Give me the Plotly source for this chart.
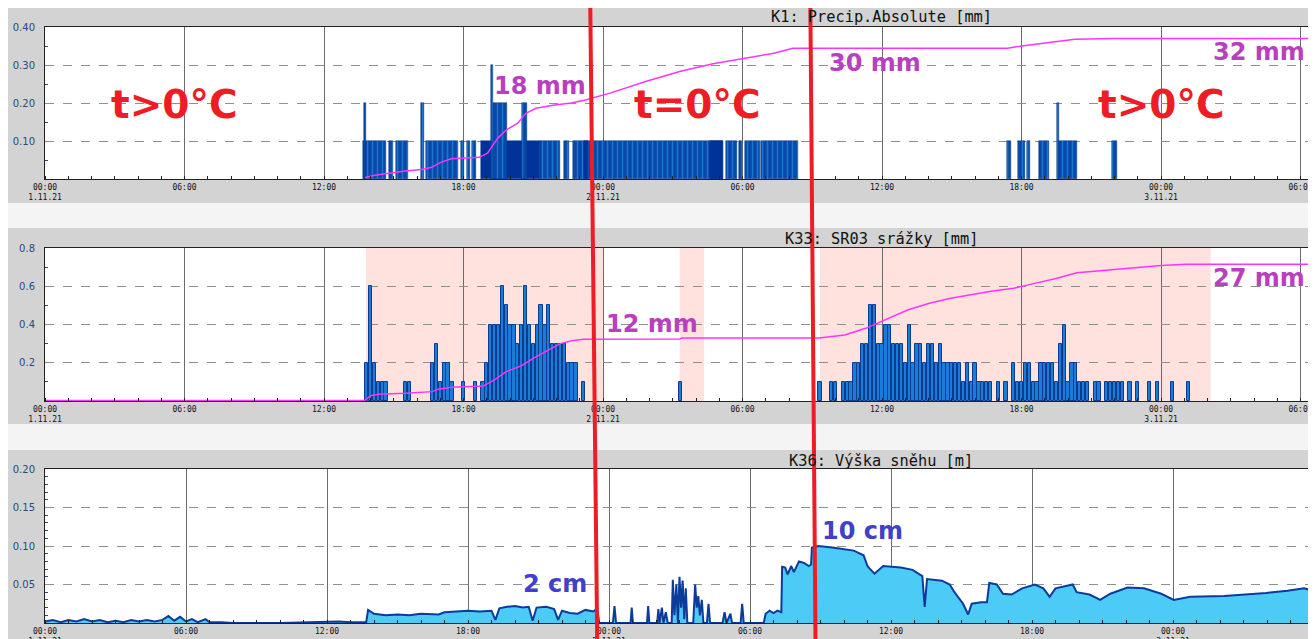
import plotly.graph_objects as go

# The page body keeps its default 8px margin, so the figure is drawn 8px in from the
# top-left corner of the 1316x639 window; size it to fill the rest.
OFF = 8
W, H = 1316 - OFF, 639 - OFF


def hrs(s):
    """'d HH:MM' (day of November 2021) -> hours since 1.11.21 00:00"""
    d, hm = s.split()
    h, m = hm.split(":")
    return (int(d) - 1) * 24 + int(h) + int(m) / 60


# ------------------------------------------------------------------ data
tick_hours = [0, 6, 12, 18, 24, 30, 36, 42, 48, 54]
tick_labels = ["00:00<br>1.11.21", "06:00", "12:00", "18:00", "00:00<br>2.11.21",
               "06:00", "12:00", "18:00", "00:00<br>3.11.21", "06:00"]

titles = ["K1: Precip.Absolute [mm]", "K33: SR03 srážky [mm]", "K36: Výška sněhu [m]"]

# K1 precipitation increments, runs of bars (start, end, value [mm])
k1_striped_runs = [
    ("1 13:41", "1 14:40", 0.1), ("1 14:49", "1 14:57", 0.1), ("1 15:05", "1 15:38", 0.1),
    ("1 16:22", "1 17:47", 0.1), ("1 17:53", "1 18:02", 0.1), ("1 18:08", "1 18:17", 0.1),
    ("1 18:23", "1 18:31", 0.1), ("1 21:17", "1 22:09", 0.1), ("1 22:20", "1 22:31", 0.1),
    ("1 22:42", "2 05:10", 0.1), ("2 05:17", "2 05:46", 0.1), ("2 05:52", "2 05:59", 0.1),
    ("2 06:06", "2 06:45", 0.1), ("2 06:49", "2 08:24", 0.1), ("2 17:23", "2 17:32", 0.1),
    ("2 17:51", "2 18:09", 0.1), ("2 18:13", "2 18:23", 0.1), ("2 18:45", "2 19:10", 0.1),
    ("2 19:34", "2 20:23", 0.1), ("2 21:53", "2 22:06", 0.1),
]
k1_dense_runs = [
    ("1 18:45", "1 21:17", 0.1), ("1 23:12", "1 23:22", 0.1), ("2 04:36", "2 05:10", 0.1),
]
k1_peak_runs = [
    ("1 13:43", "1 13:49", 0.2), ("1 16:10", "1 16:17", 0.2), ("1 19:17", "1 19:53", 0.2),
    ("1 19:11", "1 19:17", 0.3), ("1 20:30", "1 20:43", 0.2), ("2 19:32", "2 19:37", 0.2),
]
# K1 cumulative curve (drawn in axis units)
k1_cum_time = ["1 13:46", "1 14:11", "1 15:29", "1 16:12", "1 16:36",
               "1 17:00", "1 17:28", "1 18:02", "1 18:41", "1 19:02", "1 19:28", "1 19:50",
               "1 20:20", "1 20:41", "1 21:07", "1 21:55", "1 22:38", "1 23:12", "2 00:18",
               "2 01:52", "2 03:18", "2 04:44", "2 05:45", "2 06:05", "2 07:21", "2 08:10",
               "2 17:24", "2 18:00", "2 19:06", "2 19:36", "2 20:18", "2 22:00", "3 06:30"]
k1_cum_value = [0.004, 0.010, 0.021, 0.025, 0.030,
                0.043, 0.053, 0.054, 0.057, 0.068, 0.107, 0.129,
                0.147, 0.173, 0.186, 0.195, 0.200, 0.207, 0.226,
                0.257, 0.283, 0.303, 0.314, 0.316, 0.331, 0.344,
                0.344, 0.350, 0.359, 0.362, 0.368, 0.370, 0.370]

# K33 precipitation, 10-minute sums
k33_time = ["1 13:50", "1 14:00", "1 14:10", "1 14:20", "1 14:30", "1 14:40", "1 15:30", "1 15:40",
            "1 16:40", "1 16:50", "1 17:00", "1 17:10", "1 17:20", "1 17:30", "1 18:00", "1 18:30",
            "1 18:50", "1 19:00", "1 19:10", "1 19:20", "1 19:30", "1 19:40", "1 19:50", "1 20:00",
            "1 20:10", "1 20:20", "1 20:30", "1 20:40", "1 20:50", "1 21:00", "1 21:10", "1 21:20",
            "1 21:30", "1 21:40", "1 21:50", "1 22:00", "1 22:10", "1 22:20", "1 22:30", "1 22:40",
            "1 22:50", "1 23:10",
            "2 03:20",
            "2 09:20", "2 09:50", "2 10:00", "2 10:20", "2 10:30", "2 10:40", "2 10:50", "2 11:00",
            "2 11:10", "2 11:20", "2 11:30", "2 11:40", "2 11:50", "2 12:00", "2 12:10", "2 12:20",
            "2 12:30", "2 12:40", "2 12:50", "2 13:00", "2 13:10", "2 13:20", "2 13:30", "2 13:40",
            "2 13:50", "2 14:00", "2 14:10", "2 14:20", "2 14:30", "2 14:40", "2 14:50", "2 15:00",
            "2 15:10", "2 15:20", "2 15:30", "2 15:40", "2 15:50", "2 16:00", "2 16:10", "2 16:20",
            "2 16:30", "2 16:40", "2 17:00", "2 17:20", "2 17:40", "2 17:50", "2 18:00", "2 18:10",
            "2 18:20", "2 18:30", "2 18:40", "2 18:50", "2 19:00", "2 19:10", "2 19:20", "2 19:30",
            "2 19:40", "2 19:50", "2 20:00", "2 20:10", "2 20:20", "2 20:30", "2 20:40", "2 20:50",
            "2 21:10", "2 21:20", "2 21:40", "2 21:50", "2 22:00", "2 22:10", "2 22:20", "2 22:40",
            "2 23:00", "2 23:30", "2 23:50", "3 00:30", "3 01:10"]
k33_value = [0.2, 0.6, 0.2, 0.1, 0.1, 0.1, 0.1, 0.1,
             0.2, 0.3, 0.1, 0.2, 0.2, 0.1, 0.1, 0.1,
             0.1, 0.2, 0.4, 0.4, 0.4, 0.6, 0.5, 0.4,
             0.4, 0.3, 0.4, 0.6, 0.4, 0.3, 0.4, 0.5,
             0.4, 0.5, 0.3, 0.3, 0.3, 0.3, 0.2, 0.2,
             0.2, 0.1,
             0.1,
             0.1, 0.1, 0.1, 0.1, 0.1, 0.1, 0.2, 0.2,
             0.3, 0.3, 0.5, 0.5, 0.3, 0.3, 0.4, 0.4,
             0.3, 0.3, 0.3, 0.2, 0.4, 0.2, 0.3, 0.3,
             0.2, 0.3, 0.3, 0.2, 0.3, 0.2, 0.2, 0.2,
             0.2, 0.2, 0.1, 0.2, 0.1, 0.2, 0.1, 0.1,
             0.1, 0.1, 0.1, 0.1, 0.2, 0.1, 0.1, 0.2,
             0.2, 0.1, 0.1, 0.2, 0.2, 0.2, 0.2, 0.1,
             0.3, 0.4, 0.1, 0.2, 0.2, 0.1, 0.1, 0.1,
             0.1, 0.1, 0.1, 0.1, 0.1, 0.1, 0.1, 0.1,
             0.1, 0.1, 0.1, 0.1, 0.1]
# K33 periods with precipitation detected (shaded)
k33_wet_periods = [("1 13:48", "2 00:03"), ("2 03:18", "2 04:21"), ("2 09:20", "3 02:08")]
# K33 cumulative curve (axis units)
k33_cum_time = ["1 00:00", "1 13:45", "1 14:00", "1 14:20", "1 15:30", "1 16:40", "1 16:54",
                "1 17:30", "1 18:00", "1 18:51", "1 19:20", "1 19:50", "1 20:30", "1 21:00",
                "1 21:40", "1 22:10", "1 22:40", "1 23:10", "2 03:18", "2 03:24", "2 09:18",
                "2 10:24", "2 11:18", "2 12:06", "2 13:06", "2 14:00", "2 14:57", "2 16:46",
                "2 17:40", "2 18:34", "2 19:29", "2 20:23", "2 22:11", "3 00:00", "3 01:05", "3 06:30"]
k33_cum_value = [0.002, 0.002, 0.028, 0.035, 0.040, 0.049, 0.061,
                 0.072, 0.075, 0.078, 0.110, 0.153, 0.185, 0.223,
                 0.267, 0.300, 0.315, 0.323, 0.324, 0.329, 0.329,
                 0.345, 0.380, 0.424, 0.476, 0.510, 0.537, 0.575,
                 0.589, 0.615, 0.641, 0.671, 0.690, 0.708, 0.715, 0.715]

# K36 snow depth [m]
snow_time = [
    "1 00:00", "1 00:20", "1 00:40", "1 01:00", "1 01:20", "1 01:40", "1 02:00", "1 02:20",
    "1 02:40", "1 03:00", "1 03:20", "1 03:40", "1 04:00", "1 04:20", "1 04:40", "1 05:00",
    "1 05:15", "1 05:30", "1 05:45", "1 06:00", "1 06:15", "1 06:30", "1 06:50", "1 07:00",
    "1 07:30", "1 08:00", "1 10:00", "1 12:00", "1 12:30", "1 13:00", "1 13:40", "1 13:45",
    "1 14:00", "1 14:30", "1 15:00", "1 15:30", "1 16:00", "1 16:45", "1 17:00", "1 17:30",
    "1 18:00", "1 18:30", "1 19:00", "1 19:10", "1 19:20", "1 19:40", "1 20:00", "1 20:20",
    "1 20:35", "1 20:45", "1 20:55", "1 21:20", "1 21:40", "1 21:50", "1 22:00", "1 22:20",
    "1 22:40", "1 23:00", "1 23:20", "1 23:30", "1 23:35",
    "2 00:10", "2 00:14", "2 00:18", "2 00:55", "2 00:58", "2 01:01", "2 01:37", "2 01:40",
    "2 01:43", "2 02:03", "2 02:06", "2 02:09", "2 02:15", "2 02:19", "2 02:25", "2 02:30",
    "2 02:40", "2 02:43", "2 02:47", "2 02:52", "2 02:56", "2 03:00", "2 03:04", "2 03:08",
    "2 03:12", "2 03:16", "2 03:20", "2 03:35", "2 03:40", "2 03:44", "2 03:48", "2 03:52",
    "2 03:57", "2 04:01", "2 04:10", "2 04:14", "2 04:18", "2 04:50", "2 04:55", "2 05:00",
    "2 05:10", "2 05:14", "2 05:36", "2 05:40", "2 05:44", "2 06:35",
    "2 06:40", "2 06:50", "2 07:00", "2 07:10", "2 07:20", "2 07:22", "2 07:30", "2 07:36",
    "2 07:45", "2 07:52", "2 08:05", "2 08:18", "2 08:30", "2 08:36", "2 08:38", "2 08:55",
    "2 09:30", "2 10:00", "2 10:25", "2 10:50", "2 11:00", "2 11:05", "2 11:18", "2 11:40",
    "2 12:00", "2 12:25", "2 12:55", "2 13:20", "2 13:26", "2 13:32", "2 14:10", "2 14:30",
    "2 14:42", "2 15:04", "2 15:17", "2 15:26", "2 15:50", "2 16:05", "2 16:11", "2 16:30",
    "2 16:46", "2 17:08", "2 17:35", "2 18:07", "2 18:29", "2 18:45", "2 19:00", "2 19:44",
    "2 19:54", "2 20:27", "2 20:54", "2 21:20", "2 22:04", "2 22:46", "2 23:30", "3 00:02",
    "3 00:44", "3 02:11", "3 03:04", "3 03:58", "3 04:52", "3 05:35", "3 05:50"]
snow_m = [
    0.002, 0.004, 0.001, 0.004, 0.002, 0.005, 0.002, 0.004,
    0.001, 0.003, 0.001, 0.004, 0.002, 0.004, 0.002, 0.004,
    0.009, 0.003, 0.008, 0.002, 0.005, 0.001, 0.005, 0.001,
    0.001, 0.000, 0.000, 0.001, 0.002, 0.001, 0.001, 0.017,
    0.012, 0.010, 0.011, 0.010, 0.012, 0.011, 0.014, 0.015,
    0.016, 0.015, 0.016, 0.004, 0.019, 0.021, 0.022, 0.020,
    0.021, 0.003, 0.020, 0.021, 0.018, 0.004, 0.016, 0.013,
    0.012, 0.017, 0.015, 0.019, 0.000,
    0.000, 0.022, 0.000, 0.000, 0.020, 0.000, 0.000, 0.022,
    0.000, 0.000, 0.018, 0.000, 0.020, 0.000, 0.014, 0.000,
    0.000, 0.056, 0.010, 0.050, 0.000, 0.060, 0.020, 0.055,
    0.005, 0.045, 0.000, 0.000, 0.050, 0.020, 0.035, 0.010,
    0.030, 0.000, 0.000, 0.025, 0.000, 0.000, 0.014, 0.000,
    0.012, 0.000, 0.000, 0.025, 0.000, 0.000,
    0.012, 0.016, 0.013, 0.016, 0.014, 0.073, 0.072, 0.063,
    0.074, 0.066, 0.080, 0.078, 0.074, 0.076, 0.098, 0.100,
    0.098, 0.096, 0.094, 0.088, 0.074, 0.071, 0.064, 0.074,
    0.073, 0.072, 0.069, 0.061, 0.021, 0.057, 0.055, 0.050,
    0.040, 0.025, 0.011, 0.025, 0.027, 0.027, 0.052, 0.050,
    0.038, 0.037, 0.045, 0.050, 0.045, 0.034, 0.045, 0.050,
    0.040, 0.037, 0.030, 0.038, 0.046, 0.045, 0.038, 0.030,
    0.034, 0.035, 0.037, 0.039, 0.042, 0.045, 0.043]

# hand-drawn overlay notes
zone_labels = ["t>0°C", "t=0°C", "t>0°C"]
k1_sum_labels = ["18 mm", "30 mm", "32 mm"]
k33_sum_labels = ["12 mm", "27 mm"]
snow_labels = ["2 cm", "10 cm"]

# ------------------------------------------------------------------ figure
RED = "#ee1c25"
PURPLE = "#b840c0"
BLUE_TXT = "#4040c8"
MAGENTA = "#ff33ff"


def px_to_fx(x):
    """window pixel x -> paper fraction"""
    return (x - OFF) / W


def px_to_fy(y):
    """window pixel y -> paper fraction"""
    return 1 - (y - OFF) / H


fig = go.Figure()


def runs_trace(runs, marker):
    s = [hrs(a) for a, b, v in runs]
    e = [hrs(b) for a, b, v in runs]
    return go.Bar(x=[(a + b) / 2 for a, b in zip(s, e)], y=[v for _, _, v in runs],
                  width=[b - a for a, b in zip(s, e)], marker=marker,
                  xaxis="x", yaxis="y", hoverinfo="skip")


striped = dict(color="#0848a8", line=dict(color="#00307f", width=0.5),
               pattern=dict(shape="|", fgcolor="#2ea6f4", bgcolor="#0848a8",
                            size=5, solidity=0.3))
fig.add_trace(runs_trace(k1_striped_runs, striped))
fig.add_trace(runs_trace(k1_dense_runs, dict(color="#003399", line=dict(color="#003399", width=0.5))))
fig.add_trace(runs_trace(k1_peak_runs, striped))
fig.add_trace(go.Scatter(x=[hrs(t) for t in k1_cum_time], y=k1_cum_value, mode="lines",
                         line=dict(color=MAGENTA, width=1.5), xaxis="x", yaxis="y",
                         hoverinfo="skip"))

fig.add_trace(go.Bar(x=[hrs(t) for t in k33_time], y=k33_value, width=0.14,
                     marker=dict(color="#1a7bd9", line=dict(color="#0c3c8f", width=1)),
                     xaxis="x2", yaxis="y2", hoverinfo="skip"))
fig.add_trace(go.Scatter(x=[hrs(t) for t in k33_cum_time], y=k33_cum_value, mode="lines",
                         line=dict(color=MAGENTA, width=1.5), xaxis="x2", yaxis="y2",
                         hoverinfo="skip"))

fig.add_trace(go.Scatter(x=[hrs(t) for t in snow_time], y=snow_m, mode="lines",
                         fill="tozeroy", fillcolor="#4ccbf7",
                         line=dict(color="#0b3b9b", width=2), xaxis="x3", yaxis="y3",
                         hoverinfo="skip"))

# ---- axes
panel_px = [(27, 179), (248, 401), (469, 623)]      # top, bottom of plot areas (window px)
x_right_px = [1310, 1310, 1316]
px_per_hour = [23.25, 23.25, 23.5]
y_ranges = [0.4, 0.8, 0.2]
y_ticks = [[0.1, 0.2, 0.3, 0.4], [0.2, 0.4, 0.6, 0.8], [0.05, 0.10, 0.15, 0.20]]
y_ticktext = [["0.10", "0.20", "0.30", "0.40"], ["0.2", "0.4", "0.6", "0.8"],
              ["0.05", "0.10", "0.15", "0.20"]]
y_minor = [[0.05, 0.15, 0.25, 0.35], [0.1, 0.3, 0.5, 0.7],
           [i / 100 for i in range(1, 20) if i % 5]]

layout_axes = {}
for i in range(3):
    sfx = "" if i == 0 else str(i + 1)
    top, bot = panel_px[i]
    layout_axes["xaxis" + sfx] = dict(
        domain=[px_to_fx(45), min(1.0, px_to_fx(x_right_px[i]))],
        range=[0, (min(x_right_px[i], OFF + W) - 45) / px_per_hour[i]],
        anchor="y" + sfx, automargin=False,
        tickmode="array", tickvals=tick_hours, ticktext=tick_labels,
        showgrid=True, gridcolor="#6b6b6b", gridwidth=1, zeroline=False,
        showline=True, linecolor="#222222", linewidth=1, mirror=True, ticks="",
        tickfont=dict(family="DejaVu Sans Mono", size=8, color="#111111"),
        minor=dict(tickmode="array", tickvals=list(range(0, 55)), ticks="inside",
                   ticklen=3, tickcolor="#222222", showgrid=False),
        fixedrange=True)
    layout_axes["yaxis" + sfx] = dict(
        domain=[max(0.0, px_to_fy(bot)), px_to_fy(top)], range=[0, y_ranges[i]],
        anchor="x" + sfx, automargin=False,
        tickmode="array", tickvals=y_ticks[i], ticktext=y_ticktext[i],
        showgrid=True, gridcolor="#8f8f8f", griddash="dash", gridwidth=1, zeroline=False,
        showline=True, linecolor="#222222", linewidth=1, mirror=True, ticks="",
        ticklabelstandoff=7,
        tickfont=dict(family="DejaVu Sans", size=10, color="#2a4a78"),
        minor=dict(tickmode="array", tickvals=y_minor[i], ticks="inside", ticklen=3,
                   tickcolor="#2a4a78", showgrid=False),
        fixedrange=True)

shapes = []


def prect(x0, y0, x1, y1, color):
    shapes.append(dict(type="rect", xref="paper", yref="paper", x0=px_to_fx(x0), x1=px_to_fx(x1),
                       y0=px_to_fy(y1), y1=px_to_fy(y0), fillcolor=color, line=dict(width=0),
                       layer="below"))


# background bands
prect(0, 203, 1316, 228, "#f4f4f4")
prect(0, 424, 1316, 450, "#f4f4f4")
prect(5, 8, 1316, 203, "#d3d3d3")
prect(5, 228, 1316, 424, "#d3d3d3")
prect(5, 450, 1316, 639, "#d3d3d3")
for i in range(3):
    prect(45, panel_px[i][0], x_right_px[i], panel_px[i][1], "#ffffff")

for a, b in k33_wet_periods:
    shapes.append(dict(type="rect", xref="x2", yref="y2", x0=hrs(a), x1=hrs(b), y0=0,
                       y1=0.8, fillcolor="#ffe1dd", line=dict(width=0), layer="below"))

# hand drawn red separators (window px at y=8 and y=639)
for (xt, xb) in [(590.3, 597.2), (810.4, 815.5)]:
    shapes.append(dict(type="line", xref="paper", yref="paper", x0=px_to_fx(xt), y0=1,
                       x1=px_to_fx(xb), y1=0, line=dict(color=RED, width=4), layer="above"))

annotations = []


def note(text, x, y, color, size, family="DejaVu Sans", bold=True):
    annotations.append(dict(text=f"<b>{text}</b>" if bold else text, xref="paper", yref="paper",
                            x=px_to_fx(x), y=px_to_fy(y), xanchor="center", yanchor="middle",
                            showarrow=False, font=dict(family=family, size=size, color=color)))


for t, y in zip(titles, [17, 239, 461]):
    note(t, 881, y, "#111111", 15.3, family="DejaVu Sans Mono", bold=False)

for t, x in zip(zone_labels, [174, 697, 1161]):
    note(t, x, 105, RED, 39)
for t, (x, y) in zip(k1_sum_labels, [(540, 86), (875, 63), (1259, 52)]):
    note(t, x, y, PURPLE, 24)
for t, (x, y) in zip(k33_sum_labels, [(652, 324), (1259, 278)]):
    note(t, x, y, PURPLE, 24)
for t, (x, y) in zip(snow_labels, [(555, 584), (862, 531)]):
    note(t, x, y, BLUE_TXT, 24)

fig.update_layout(
    width=W, height=H, margin=dict(l=0, r=0, t=0, b=0, pad=0, autoexpand=False),
    paper_bgcolor="#ffffff", plot_bgcolor="rgba(0,0,0,0)",
    showlegend=False, barmode="overlay", bargap=0,
    shapes=shapes, annotations=annotations, **layout_axes)

fig.write_html("out.html", config={"displayModeBar": False})
